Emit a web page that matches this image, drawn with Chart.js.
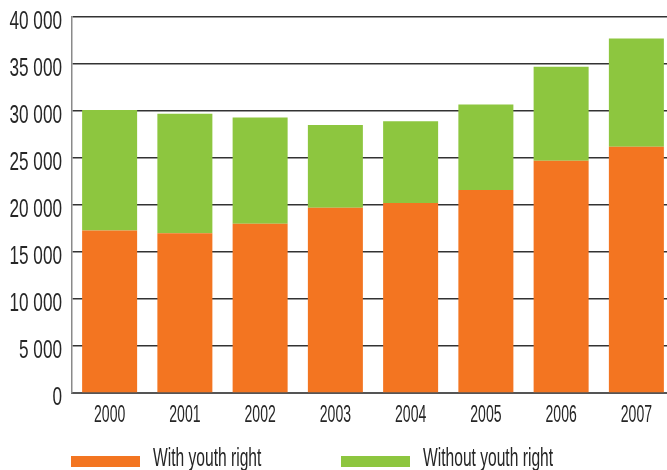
<!DOCTYPE html>
<html>
<head>
<meta charset="utf-8">
<script src="https://cdn.jsdelivr.net/npm/chart.js@4"></script>
<style>
  html, body { margin: 0; padding: 0; background: #fff; overflow: hidden; }
  /* the plot runs a little past the right edge of the picture */
  #wrap { width: 674px; height: 470px; }
</style>
</head>
<body>
<div id="wrap"><canvas id="chart"></canvas></div>
<script>
// data
const years = ['2000', '2001', '2002', '2003', '2004', '2005', '2006', '2007'];
const withYouthRight = [17300, 17000, 18000, 19700, 20200, 21600, 24700, 26200];
const withoutYouthRight = [12800, 12700, 11300, 8800, 8700, 9100, 10000, 11500];
const yTicks = [0, 5000, 10000, 15000, 20000, 25000, 30000, 35000, 40000];

const ORANGE = '#F37521';
const GREEN = '#8DC63F';
const INK = '#262626';

function spaced(n) {
  return String(n).replace(/\B(?=(\d{3})+(?!\d))/g, ' ');
}

// the original uses a very narrow face, so squeeze Liberation Sans horizontally
const condensedText = {
  id: 'condensedText',
  afterDraw(chart) {
    const ctx = chart.ctx;
    const xs = chart.scales.x;
    const ys = chart.scales.y;
    const put = (str, px, py, size, squeeze, align) => {
      ctx.save();
      ctx.font = size + 'px "Liberation Sans", Arial, sans-serif';
      ctx.fillStyle = INK;
      ctx.textBaseline = 'middle';
      ctx.textAlign = align;
      ctx.translate(px, py);
      ctx.scale(squeeze, 1);
      ctx.fillText(str, 0, 0);
      ctx.restore();
    };

    ys.ticks.forEach((t, i) => {
      put(spaced(t.value), 62, ys.getPixelForTick(i) + 5, 26, 0.66, 'right');
    });
    xs.ticks.forEach((t, i) => {
      put(chart.data.labels[i], xs.getPixelForTick(i), 416, 23, 0.61, 'center');
    });

    // legend along the bottom
    const starts = [71, 341];
    chart.data.datasets.forEach((ds, i) => {
      ctx.fillStyle = ds.backgroundColor;
      ctx.fillRect(starts[i], 456, 69, 11);
      put(ds.label, starts[i] + 82, 459, 26, 0.6, 'left');
    });
  }
};

new Chart(document.getElementById('chart'), {
  type: 'bar',
  data: {
    labels: years,
    datasets: [
      { label: 'With youth right', data: withYouthRight, backgroundColor: ORANGE },
      { label: 'Without youth right', data: withoutYouthRight, backgroundColor: GREEN }
    ]
  },
  options: {
    responsive: true,
    maintainAspectRatio: false,
    animation: false,
    layout: { padding: { left: 72, top: 17, right: 0, bottom: 77 } },
    datasets: {
      bar: { categoryPercentage: 1, barPercentage: 0.731 }
    },
    plugins: {
      legend: { display: false },
      tooltip: { enabled: false }
    },
    scales: {
      x: {
        stacked: true,
        grid: { display: false, drawTicks: false },
        border: { display: true, color: '#555', width: 2 },
        ticks: { display: false }
      },
      y: {
        stacked: true,
        min: 0,
        max: 40000,
        afterBuildTicks: scale => {
          scale.ticks = yTicks.map(v => ({ value: v }));
        },
        grid: { color: '#333', lineWidth: 1.5, drawTicks: false, tickLength: 0 },
        border: { display: true, color: '#8a8a8a', width: 1.5 },
        ticks: { display: false }
      }
    }
  },
  plugins: [condensedText]
});
</script>
</body>
</html>
